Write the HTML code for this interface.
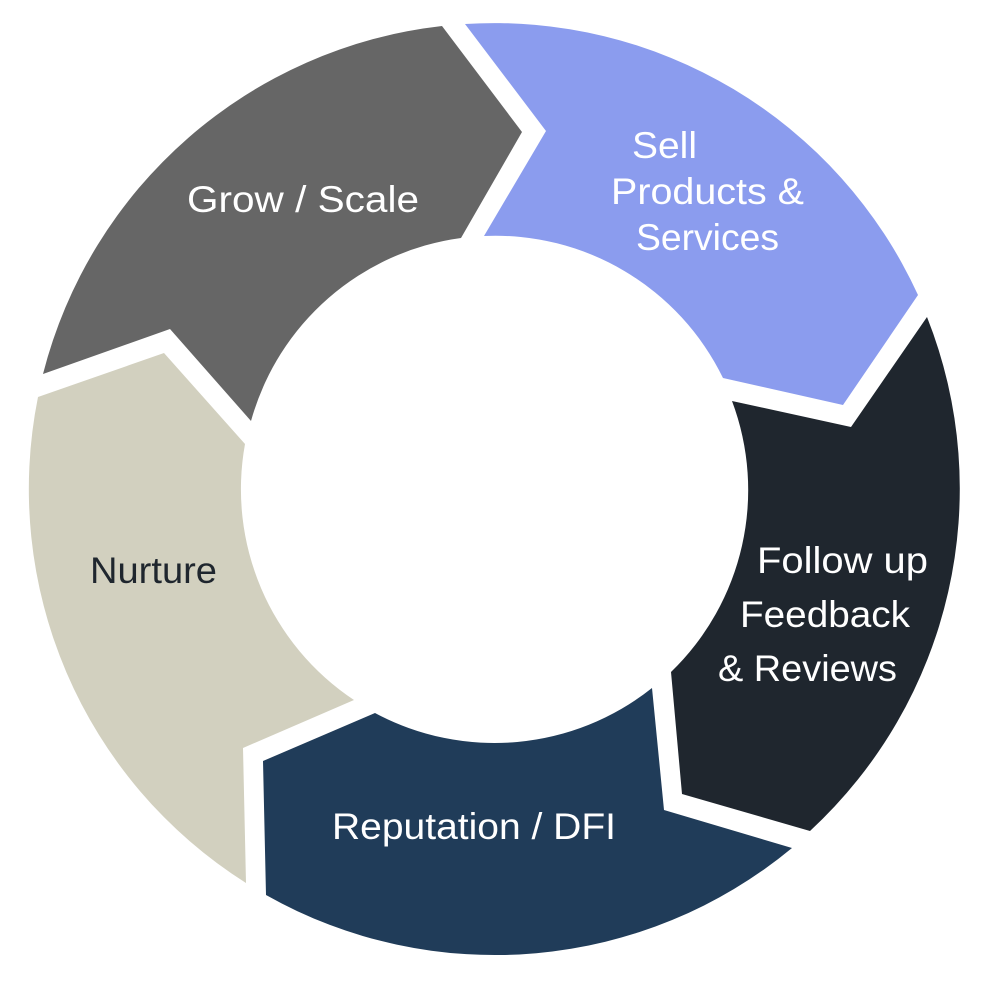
<!DOCTYPE html>
<html>
<head>
<meta charset="utf-8">
<style>
html,body{margin:0;padding:0;background:#fff;}
svg{display:block;}
text{font-family:"Liberation Sans",sans-serif;font-size:37px;}
</style>
</head>
<body>
<svg width="1000" height="1000" viewBox="0 0 1000 1000" xmlns="http://www.w3.org/2000/svg">
<rect width="1000" height="1000" fill="#fff"/>
<path fill="#8b9cee" d="M465 24 A466 466 0 0 1 918 295 L843 405 L723 378 A253 253 0 0 0 484 236 L546 131 Z"/>
<path fill="#1f262e" d="M927 317 A466 466 0 0 1 810 831 L682 794 L671 672 A253 253 0 0 0 732 401 L851 427 Z"/>
<path fill="#203c59" d="M792 848 A466 466 0 0 1 266 895 L263 761 L375 713 A253 253 0 0 0 652 688 L664 810 Z"/>
<path fill="#d2d0bf" d="M246 883 A466 466 0 0 1 38 397 L164 353 L245 444 A253 253 0 0 0 354 700 L243 748 Z"/>
<path fill="#666666" d="M43 374 A466 466 0 0 1 442 26 L522 132 L461 238 A253 253 0 0 0 251 421 L170 329 Z"/>
<g fill="#ffffff">
<text x="632" y="158" textLength="65" lengthAdjust="spacingAndGlyphs">Sell</text>
<text x="611" y="204" textLength="193" lengthAdjust="spacingAndGlyphs">Products &amp;</text>
<text x="636" y="250" textLength="143" lengthAdjust="spacingAndGlyphs">Services</text>
<text x="187" y="212" textLength="232" lengthAdjust="spacingAndGlyphs">Grow / Scale</text>
<text x="757" y="573" textLength="171" lengthAdjust="spacingAndGlyphs">Follow up</text>
<text x="740" y="627" textLength="170" lengthAdjust="spacingAndGlyphs">Feedback</text>
<text x="718" y="681" textLength="179" lengthAdjust="spacingAndGlyphs">&amp; Reviews</text>
<text x="332" y="839" textLength="284" lengthAdjust="spacingAndGlyphs">Reputation / DFI</text>
</g>
<text x="90" y="583" textLength="127" lengthAdjust="spacingAndGlyphs" fill="#1f262e">Nurture</text>
</svg>
</body>
</html>
